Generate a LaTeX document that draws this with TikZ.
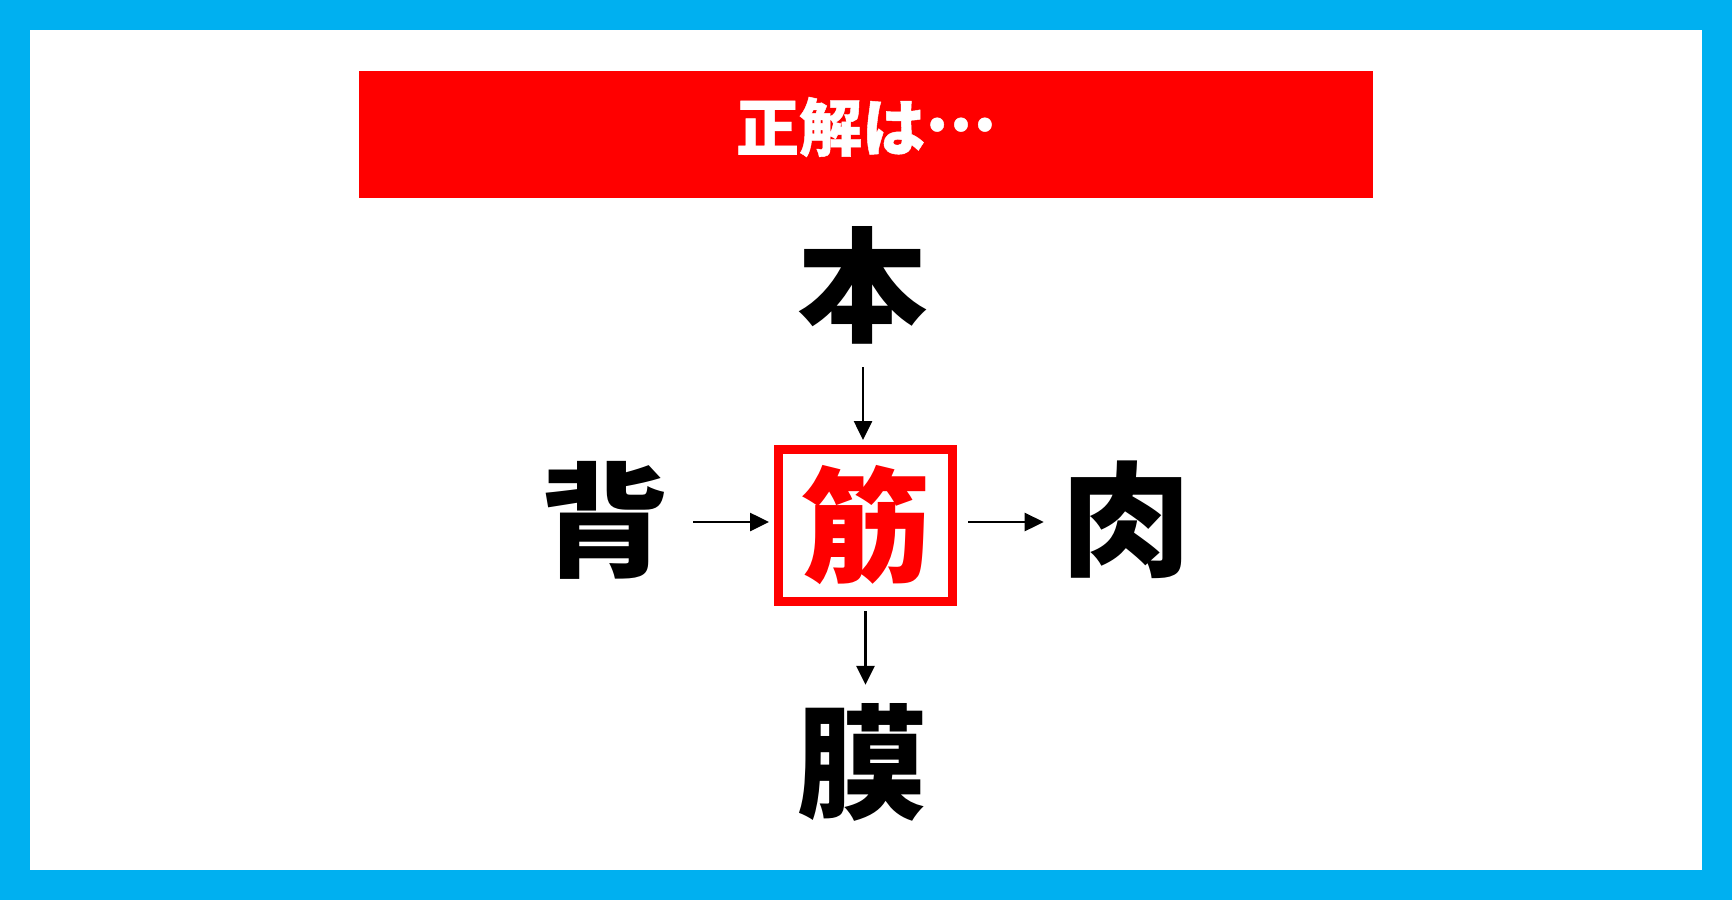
\documentclass[tikz,border=0pt]{standalone}
\usepackage{fontspec}
\newfontfamily\jptitle{Noto Sans CJK JP}[FakeBold=0.7]
\newfontfamily\jpwide{Noto Sans CJK JP}[FakeStretch=1.05]
\usetikzlibrary{arrows.meta}
\definecolor{frameblue}{RGB}{0,176,240}
\definecolor{bannerred}{RGB}{255,0,0}
\begin{document}
\begin{tikzpicture}[x=1pt,y=-1pt,
  bigchar/.style={font=\jpwide\bfseries\fontsize{124}{124}\selectfont, inner sep=0pt, minimum width=130pt, minimum height=130pt},
  arrowline/.style={line width=2.6pt, -{Triangle[length=19pt,width=18pt]}},
  centerbox/.style={draw=bannerred, line width=9pt, minimum width=174pt, minimum height=152pt, inner sep=0pt, text=bannerred}
]
\useasboundingbox (0,0) rectangle (1732,900);
\fill[frameblue] (0,0) rectangle (1732,900);
\fill[white] (30,30) rectangle (1702,870);
\node[fill=bannerred, minimum width=1014pt, minimum height=127pt, inner sep=0pt] (banner) at (866,134.5) {};
\node[font=\jptitle\bfseries\fontsize{63}{63}\selectfont, text=white, inner sep=0pt] (title) at (866,127) {正解は\raisebox{0.32em}{…}};
\node[bigchar] (hon) at (863,285) {本};
\node[bigchar] (sei) at (605,520) {背};
\node[bigchar] (niku) at (1127,520) {肉};
\node[bigchar] (maku) at (863,762) {膜};
\node[centerbox, font=\jpwide\bfseries\fontsize{124}{124}\selectfont] (kin) at (865.5,525.5) {筋};
\draw[arrowline, shorten <=17pt, shorten >=5pt] (hon.south) -- (hon.south |- kin.north);
\draw[arrowline, shorten <=5pt, shorten >=12pt] (kin.south) -- (kin.south |- maku.north);
\coordinate (lefty) at (0,522);
\draw[arrowline, shorten <=23pt, shorten >=5pt] (sei.east |- lefty) -- (kin.west |- lefty);
\draw[arrowline, shorten <=11pt, shorten >=18pt] (kin.east |- lefty) -- (niku.west |- lefty);
\end{tikzpicture}
\end{document}
